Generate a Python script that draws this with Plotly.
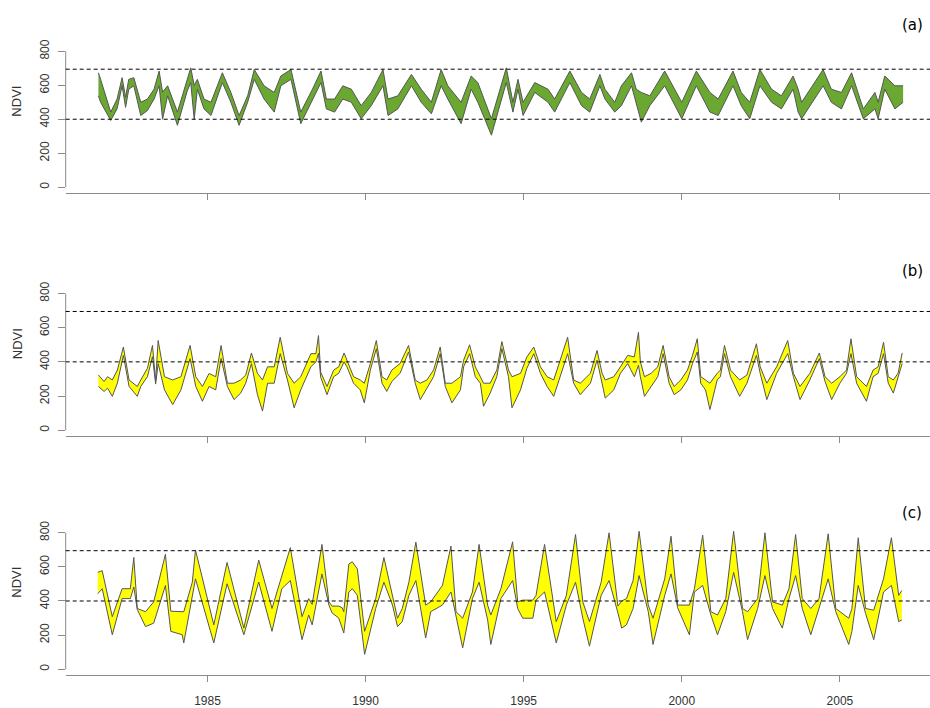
import plotly.graph_objects as go

# ---------------- data ----------------
years_a = [1981.55, 1981.62, 1981.94, 1982.14, 1982.30, 1982.41, 1982.51, 1982.67, 1982.89, 1983.10,
           1983.31, 1983.47, 1983.58, 1983.74, 1984.05, 1984.36, 1984.47, 1984.58, 1984.68, 1984.89,
           1985.11, 1985.47, 1985.74, 1986.00, 1986.27, 1986.48, 1986.79, 1987.11, 1987.32, 1987.64,
           1987.95, 1988.32, 1988.59, 1988.76, 1989.02, 1989.28, 1989.55, 1989.86, 1990.18, 1990.55,
           1990.71, 1991.02, 1991.45, 1991.76, 1992.08, 1992.39, 1992.60, 1993.02, 1993.34, 1993.55,
           1993.98, 1994.45, 1994.66, 1994.82, 1994.98, 1995.35, 1995.77, 1995.98, 1996.46, 1996.83,
           1997.09, 1997.41, 1997.57, 1997.88, 1998.09, 1998.41, 1998.56, 1998.72, 1998.99, 1999.46,
           2000.00, 2000.46, 2000.89, 2001.15, 2001.62, 2001.88, 2002.15, 2002.47, 2002.84, 2003.15,
           2003.52, 2003.68, 2003.79, 2004.47, 2004.73, 2005.05, 2005.37, 2005.74, 2006.11, 2006.21,
           2006.42, 2006.74, 2007.00]
upper_a = [674, 635, 442, 519, 645, 530, 635, 645, 500, 519,
           577, 684, 560, 597, 442, 635, 703, 600, 635, 519,
           500, 674, 558, 422, 538, 693, 597, 558, 655, 693,
           442, 577, 684, 519, 519, 597, 577, 480, 558, 693,
           519, 538, 664, 577, 500, 693, 597, 500, 655, 616,
           403, 703, 500, 635, 500, 616, 577, 519, 684, 558,
           519, 664, 577, 500, 597, 674, 577, 558, 538, 684,
           500, 684, 558, 519, 684, 558, 500, 693, 577, 538,
           655, 577, 500, 693, 577, 558, 674, 461, 558, 500,
           655, 597, 597]
lower_a = [538, 500, 393, 461, 597, 470, 577, 597, 422, 451,
           519, 597, 400, 538, 364, 567, 616, 400, 577, 461,
           422, 616, 500, 364, 500, 635, 519, 442, 597, 635,
           374, 519, 616, 461, 442, 519, 500, 403, 480, 597,
           422, 461, 597, 500, 432, 597, 519, 374, 577, 500,
           306, 616, 442, 577, 422, 558, 500, 442, 616, 480,
           442, 597, 519, 442, 480, 597, 500, 383, 480, 597,
           403, 597, 442, 422, 597, 480, 403, 597, 500, 461,
           577, 442, 403, 597, 500, 461, 597, 403, 461, 403,
           577, 461, 500]

years_b = [1981.55, 1981.73, 1981.84, 1981.99, 1982.15, 1982.34, 1982.52, 1982.78, 1982.89, 1983.10,
           1983.26, 1983.36, 1983.44, 1983.64, 1983.90, 1984.16, 1984.45, 1984.63, 1984.84, 1985.05,
           1985.26, 1985.43, 1985.63, 1985.84, 1986.05, 1986.21, 1986.39, 1986.58, 1986.74, 1986.90,
           1987.11, 1987.30, 1987.53, 1987.74, 1987.95, 1988.27, 1988.43, 1988.51, 1988.58, 1988.78,
           1988.99, 1989.15, 1989.32, 1989.41, 1989.62, 1989.83, 1989.96, 1990.15, 1990.34, 1990.52,
           1990.67, 1990.83, 1991.09, 1991.36, 1991.57, 1991.73, 1991.94, 1992.15, 1992.36, 1992.52,
           1992.73, 1993.00, 1993.10, 1993.29, 1993.47, 1993.63, 1993.73, 1993.94, 1994.15, 1994.31,
           1994.52, 1994.63, 1994.90, 1995.10, 1995.32, 1995.53, 1995.74, 1995.95, 1996.39, 1996.58,
           1996.79, 1997.00, 1997.11, 1997.32, 1997.48, 1997.58, 1997.85, 1998.06, 1998.29, 1998.50,
           1998.63, 1998.69, 1998.82, 1999.03, 1999.24, 1999.41, 1999.60, 1999.76, 1999.97, 2000.18,
           2000.34, 2000.49, 2000.60, 2000.75, 2000.89, 2001.12, 2001.22, 2001.35, 2001.54, 2001.83,
           2002.06, 2002.36, 2002.48, 2002.69, 2003.00, 2003.35, 2003.53, 2003.74, 2004.05, 2004.35,
           2004.53, 2004.74, 2005.00, 2005.21, 2005.35, 2005.53, 2005.84, 2006.05, 2006.21, 2006.38,
           2006.53, 2006.69, 2006.84, 2006.97]
upper_b = [323, 285, 313, 294, 352, 487, 294, 256, 294, 362,
           496, 290, 525, 313, 294, 313, 496, 313, 256, 332,
           313, 496, 275, 275, 294, 323, 452, 333, 294, 371,
           371, 544, 333, 275, 313, 448, 448, 554, 340, 256,
           352, 371, 452, 410, 313, 294, 275, 390, 525, 313,
           294, 352, 390, 496, 294, 275, 294, 352, 487, 275,
           275, 313, 410, 500, 371, 313, 275, 275, 352, 519,
           352, 313, 333, 429, 487, 371, 313, 294, 544, 294,
           275, 313, 333, 467, 333, 294, 313, 371, 438, 429,
           573, 400, 313, 333, 371, 496, 313, 256, 294, 352,
           438, 535, 313, 294, 275, 333, 352, 496, 352, 294,
           323, 506, 371, 275, 371, 525, 333, 256, 333, 452,
           313, 275, 313, 352, 535, 313, 256, 352, 371, 515,
           313, 294, 333, 452]
lower_b = [256, 227, 246, 198, 275, 438, 256, 198, 256, 313,
           430, 270, 390, 236, 150, 236, 419, 256, 169, 256,
           236, 420, 256, 179, 217, 275, 390, 208, 112, 275,
           275, 448, 294, 131, 236, 371, 400, 450, 310, 208,
           313, 333, 400, 371, 275, 236, 160, 352, 477, 275,
           227, 285, 333, 458, 275, 179, 246, 313, 448, 256,
           160, 236, 371, 448, 313, 275, 140, 217, 313, 477,
           313, 131, 236, 362, 448, 333, 256, 198, 448, 275,
           208, 256, 275, 410, 275, 188, 236, 333, 390, 313,
           380, 313, 198, 256, 313, 448, 275, 208, 236, 294,
           390, 458, 275, 236, 121, 294, 313, 448, 313, 198,
           275, 438, 333, 179, 333, 448, 313, 179, 294, 419,
           285, 179, 275, 333, 448, 275, 169, 313, 333, 448,
           275, 217, 313, 390]

years_c = [1981.53, 1981.67, 1981.99, 1982.30, 1982.56, 1982.67, 1982.78, 1983.04, 1983.30, 1983.67,
           1983.84, 1984.20, 1984.25, 1984.52, 1984.62, 1985.20, 1985.62, 1986.15, 1986.62, 1987.04,
           1987.35, 1987.62, 1987.99, 1988.20, 1988.31, 1988.62, 1988.84, 1988.94, 1989.15, 1989.26,
           1989.31, 1989.47, 1989.58, 1989.74, 1989.97, 1990.32, 1990.58, 1990.85, 1991.01, 1991.16,
           1991.37, 1991.59, 1991.90, 1992.06, 1992.43, 1992.70, 1992.86, 1993.07, 1993.38, 1993.59,
           1993.86, 1993.96, 1994.28, 1994.65, 1994.81, 1994.97, 1995.29, 1995.39, 1995.66, 1996.03,
           1996.35, 1996.64, 1996.87, 1997.08, 1997.45, 1997.70, 1997.98, 1998.10, 1998.25, 1998.46,
           1998.65, 1998.94, 1999.09, 1999.46, 1999.66, 1999.87, 2000.24, 2000.40, 2000.66, 2000.92,
           2001.13, 2001.39, 2001.64, 2001.92, 2002.08, 2002.40, 2002.63, 2002.87, 2003.18, 2003.39,
           2003.60, 2003.81, 2004.08, 2004.34, 2004.63, 2004.87, 2005.28, 2005.38, 2005.58, 2005.81,
           2006.07, 2006.38, 2006.63, 2006.86, 2006.96]
upper_c = [568, 578, 308, 472, 472, 655, 356, 337, 395, 674,
           340, 337, 337, 510, 699, 260, 626, 241, 640, 356,
           549, 713, 308, 414, 380, 732, 395, 370, 370, 360,
           337, 617, 630, 588, 222, 414, 655, 433, 299, 356,
           510, 745, 376, 395, 491, 722, 337, 299, 453, 732,
           376, 318, 472, 747, 395, 405, 405, 433, 732, 279,
           433, 790, 395, 279, 510, 800, 370, 400, 414, 520,
           809, 376, 299, 530, 780, 376, 376, 472, 786, 337,
           318, 414, 809, 356, 337, 414, 800, 395, 376, 472,
           790, 414, 356, 414, 794, 356, 299, 356, 771, 356,
           346, 530, 771, 433, 462]
lower_c = [443, 472, 202, 414, 414, 482, 350, 250, 270, 491,
           222, 202, 154, 433, 530, 154, 501, 202, 511, 222,
           472, 520, 173, 318, 260, 559, 376, 330, 300, 241,
           212, 453, 472, 433, 87, 356, 510, 376, 250, 279,
           433, 520, 183, 337, 376, 453, 318, 125, 414, 510,
           289, 145, 414, 520, 356, 299, 299, 405, 453, 154,
           376, 510, 299, 135, 433, 520, 330, 241, 260, 356,
           549, 337, 145, 433, 559, 360, 202, 453, 491, 318,
           202, 337, 568, 337, 173, 356, 549, 356, 241, 414,
           549, 356, 202, 356, 530, 337, 145, 222, 491, 328,
           173, 453, 491, 279, 289]

ref_levels = [695, 400]
x_ticks = [1985, 1990, 1995, 2000, 2005]
y_ticks = [0, 200, 400, 600, 800]
panel_labels = ["(a)", "(b)", "(c)"]
fill_colors = ["#6aa832", "#ffff00", "#ffff00"]

# ---------------- layout geometry ----------------
W, H = 930, 708
x_dom = [65.7 / W, 1.0]
x_range = [1980.516, 2007.85]
y_range = [-32, 832]
panel_px = [(39.5, 188.2), (285.1, 434.8), (527.8, 677.2)]   # top, bottom pixel of plot region
label_px_y = [18, 268, 513]
ndvi_px_y = [96, 342, 584]

series = [(years_a, upper_a, lower_a), (years_b, upper_b, lower_b), (years_c, upper_c, lower_c)]

fig = go.Figure()
line_col = "#555555"
axis_col = "#8a8a8a"
text_col = "#333333"

for i, (yrs, up, lo) in enumerate(series):
    xa = "x" if i == 0 else f"x{i+1}"
    ya = "y" if i == 0 else f"y{i+1}"
    fig.add_trace(go.Scatter(x=yrs, y=lo, mode="lines", line=dict(color=line_col, width=1),
                             xaxis=xa, yaxis=ya, showlegend=False, hoverinfo="skip"))
    fig.add_trace(go.Scatter(x=yrs, y=up, mode="lines", line=dict(color=line_col, width=1),
                             fill="tonexty", fillcolor=fill_colors[i],
                             xaxis=xa, yaxis=ya, showlegend=False, hoverinfo="skip"))

    top, bot = panel_px[i]
    dom = [1 - bot / H, 1 - top / H]
    xkey = "xaxis" if i == 0 else f"xaxis{i+1}"
    ykey = "yaxis" if i == 0 else f"yaxis{i+1}"
    fig.update_layout(**{
        xkey: dict(domain=x_dom, range=x_range, anchor=ya, showgrid=False, zeroline=False,
                   showline=True, linecolor=axis_col, linewidth=1,
                   ticks="outside", ticklen=6, tickcolor=axis_col, tickwidth=1,
                   tickvals=x_ticks, showticklabels=(i == 2),
                   ticklabelstandoff=9,
                   tickfont=dict(family="Liberation Sans, Arial", size=12, color=text_col)),
        ykey: dict(domain=dom, range=y_range, anchor=xa, showgrid=False, zeroline=False,
                   showline=False, ticks="outside", ticklen=7, tickcolor=axis_col, tickwidth=1,
                   tickvals=y_ticks, tickangle=-90, ticklabelstandoff=4,
                   tickfont=dict(family="Liberation Sans, Arial", size=12, color=text_col)),
    })
    xr = xa + " domain"
    # y axis line from 0 to 800 (R style)
    fig.add_shape(type="line", xref=xr, yref=ya, x0=0, x1=0, y0=y_ticks[0], y1=y_ticks[-1],
                  line=dict(color=axis_col, width=1))
    for lev in ref_levels:
        fig.add_shape(type="line", xref=xr, yref=ya, x0=0, x1=1, y0=lev, y1=lev,
                      line=dict(color="black", width=1, dash="4px,3px"))
    fig.add_annotation(text=panel_labels[i], xref="paper", yref="paper",
                       x=912 / W, y=1 - label_px_y[i] / H, showarrow=False,
                       xanchor="center", yanchor="middle",
                       font=dict(family="DejaVu Sans", size=15, color="black"))
    fig.add_annotation(text="NDVI", xref="paper", yref="paper",
                       x=17 / W, y=1 - ndvi_px_y[i] / H, showarrow=False, textangle=-90,
                       xanchor="center", yanchor="middle",
                       font=dict(family="Liberation Sans, Arial", size=13, color=text_col))

fig.update_layout(width=W, height=H, margin=dict(l=0, r=0, t=0, b=0),
                  paper_bgcolor="white", plot_bgcolor="white")

fig.write_html("out.html", config={"displayModeBar": False},
               post_script="document.body.style.margin='0';document.body.style.overflow='hidden';")
